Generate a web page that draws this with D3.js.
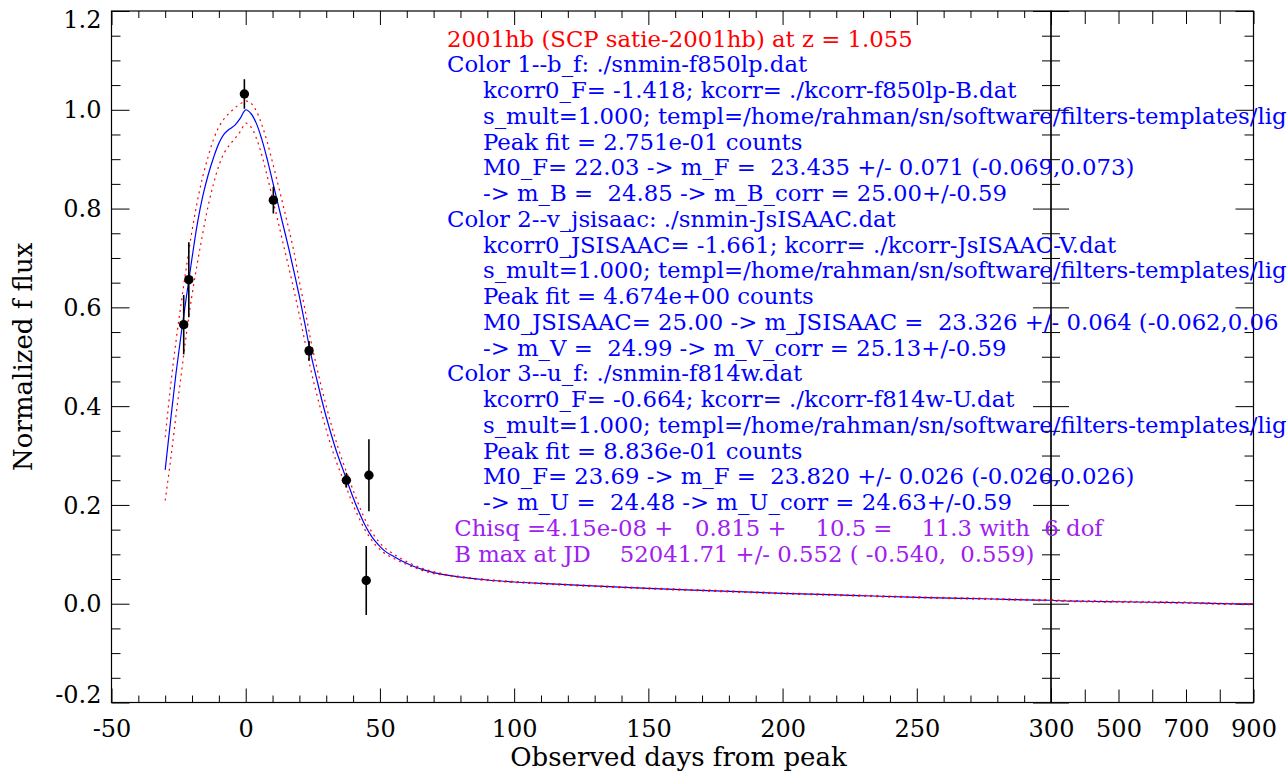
<!DOCTYPE html>
<html><head><meta charset="utf-8">
<script src="https://cdn.jsdelivr.net/npm/d3@7"></script>
<style>
html,body{margin:0;padding:0;background:#fff;}
svg{display:block;}
text{font-family:"DejaVu Serif",serif;white-space:pre;}
</style></head>
<body><svg id="c" width="1287" height="778"></svg>
<script>
// ---------------- data ----------------
const fitDays = [-30,-28,-26,-24,-22,-20,-18,-16,-14,-12,-10,-8,-6,-4,-2,0,2,4,6,8,10,12,14,16,18,20,22,24,26,28,30,32,34,36,38,40,42,44,46,48,50,52,55,58,62,66,70,75,80,90,100,110,125,150,175,200,225,250,275,300,400,500,600,700,800,900];
const fitFlux = [0.271,0.37,0.465,0.548,0.625,0.70,0.77,0.825,0.868,0.903,0.932,0.951,0.961,0.969,0.983,1.000,0.992,0.972,0.940,0.900,0.855,0.810,0.765,0.720,0.672,0.622,0.568,0.512,0.465,0.420,0.378,0.340,0.305,0.275,0.245,0.215,0.188,0.164,0.144,0.128,0.116,0.106,0.096,0.087,0.077,0.069,0.063,0.058,0.054,0.048,0.044,0.041,0.037,0.031,0.026,0.021,0.017,0.013,0.010,0.007,0.005,0.004,0.003,0.002,0.000,-0.001];
const fitUpper = [0.337,0.44,0.53,0.61,0.685,0.755,0.815,0.865,0.905,0.94,0.965,0.982,0.994,1.004,1.012,1.018,1.013,0.997,0.970,0.935,0.893,0.850,0.805,0.760,0.712,0.652,0.598,0.540,0.490,0.443,0.400,0.360,0.323,0.290,0.260,0.230,0.202,0.176,0.154,0.137,0.123,0.112,0.101,0.091,0.080,0.071,0.065,0.059,0.055,0.049,0.045,0.042,0.038,0.032,0.027,0.022,0.018,0.014,0.011,0.008,0.006,0.005,0.004,0.003,0.001,0.000];
const fitLower = [0.209,0.29,0.38,0.465,0.55,0.625,0.69,0.75,0.805,0.85,0.887,0.913,0.929,0.942,0.956,0.973,0.965,0.942,0.908,0.866,0.820,0.775,0.728,0.682,0.634,0.584,0.532,0.480,0.434,0.392,0.352,0.316,0.284,0.256,0.228,0.200,0.176,0.154,0.136,0.121,0.110,0.101,0.092,0.084,0.075,0.067,0.061,0.057,0.053,0.047,0.043,0.040,0.036,0.030,0.025,0.020,0.016,0.012,0.009,0.006,0.004,0.003,0.002,0.001,-0.001,-0.002];

const obsDays = [-23.1,-21.2,-0.5,10.3,23.6,37.5,44.9,45.9];
const obsFlux = [0.565,0.656,1.032,0.817,0.512,0.250,0.047,0.260];
const obsErr  = [0.060,0.076,0.030,0.027,0.020,0.015,0.070,0.073];

const yMajor = [-0.2,0.0,0.2,0.4,0.6,0.8,1.0,1.2];
const yLabels = ["-0.2","0.0","0.2","0.4","0.6","0.8","1.0","1.2"];
const xMajorLeft = [-50,0,50,100,150,200,250,300];
const xLabelsLeft = ["-50","0","50","100","150","200","250","300"];
const xMajorRight = [300,400,500,600,700,800,900];
const xLabelsRight = ["","","500","","700","","900"];

const xTitle = "Observed days from peak";
const yTitle = "Normalized f flux";

const infoLines = [
 {t:"2001hb (SCP satie-2001hb) at z = 1.055", c:"#ff0000", ind:0},
 {t:"Color 1--b_f: ./snmin-f850lp.dat", c:"#0000ff", ind:0},
 {t:"kcorr0_F= -1.418; kcorr= ./kcorr-f850lp-B.dat", c:"#0000ff", ind:1},
 {t:"s_mult=1.000; templ=/home/rahman/sn/software/filters-templates/lig", c:"#0000ff", ind:1},
 {t:"Peak fit = 2.751e-01 counts", c:"#0000ff", ind:1},
 {t:"M0_F= 22.03 -> m_F =  23.435 +/- 0.071 (-0.069,0.073)", c:"#0000ff", ind:1},
 {t:"-> m_B =  24.85 -> m_B_corr = 25.00+/-0.59", c:"#0000ff", ind:1},
 {t:"Color 2--v_jsisaac: ./snmin-JsISAAC.dat", c:"#0000ff", ind:0},
 {t:"kcorr0_JSISAAC= -1.661; kcorr= ./kcorr-JsISAAC-V.dat", c:"#0000ff", ind:1},
 {t:"s_mult=1.000; templ=/home/rahman/sn/software/filters-templates/lig", c:"#0000ff", ind:1},
 {t:"Peak fit = 4.674e+00 counts", c:"#0000ff", ind:1},
 {t:"M0_JSISAAC= 25.00 -> m_JSISAAC =  23.326 +/- 0.064 (-0.062,0.06", c:"#0000ff", ind:1},
 {t:"-> m_V =  24.99 -> m_V_corr = 25.13+/-0.59", c:"#0000ff", ind:1},
 {t:"Color 3--u_f: ./snmin-f814w.dat", c:"#0000ff", ind:0},
 {t:"kcorr0_F= -0.664; kcorr= ./kcorr-f814w-U.dat", c:"#0000ff", ind:1},
 {t:"s_mult=1.000; templ=/home/rahman/sn/software/filters-templates/lig", c:"#0000ff", ind:1},
 {t:"Peak fit = 8.836e-01 counts", c:"#0000ff", ind:1},
 {t:"M0_F= 23.69 -> m_F =  23.820 +/- 0.026 (-0.026,0.026)", c:"#0000ff", ind:1},
 {t:"-> m_U =  24.48 -> m_U_corr = 24.63+/-0.59", c:"#0000ff", ind:1},
 {t:" Chisq =4.15e-08 +   0.815 +    10.5 =    11.3 with  6 dof", c:"#a020f0", ind:0},
 {t:" B max at JD    52041.71 +/- 0.552 ( -0.540,  0.559)", c:"#a020f0", ind:0}
];

// ---------------- layout ----------------
const xL = 111.5, xM = 1051, xR = 1253.5, yT = 11, yB = 702.5;
const svg = d3.select("#c");
const x1 = d3.scaleLinear().domain([-50,300]).range([xL,xM]);
const x2 = d3.scaleLinear().domain([300,900]).range([xM,xR]);
const y = d3.scaleLinear().domain([-0.2,1.2]).range([yB,yT]);

const yMinor = d3.range(-0.2,1.2001,0.05).map(v=>+v.toFixed(2)).filter(v=>!yMajor.some(m=>Math.abs(m-v)<1e-6));
const xMinorLeft = d3.range(-50,300.1,10).filter(v=>v%50!==0);

svg.append("defs").call(d=>{
  d.append("clipPath").attr("id","cl").append("rect").attr("x",xL).attr("y",yT).attr("width",xM-xL).attr("height",yB-yT);
  d.append("clipPath").attr("id","cr").append("rect").attr("x",xM).attr("y",yT).attr("width",xR-xM).attr("height",yB-yT);
});

function styleAxis(g){
  g.select(".domain").remove();
  g.selectAll(".tick line").attr("stroke","#000").attr("stroke-width",1);
  g.selectAll(".tick text").attr("fill","#000").attr("font-family","DejaVu Serif").attr("font-size",24);
}

// left panel x axes
svg.append("g").attr("transform",`translate(0,${yB})`)
  .call(d3.axisBottom(x1).tickValues(xMajorLeft).tickSize(-14).tickPadding(17).tickFormat((d,i)=>xLabelsLeft[i]))
  .call(styleAxis);
svg.append("g").attr("transform",`translate(0,${yB})`)
  .call(d3.axisBottom(x1).tickValues(xMinorLeft).tickSize(-7).tickFormat(""))
  .call(styleAxis);
svg.append("g").attr("transform",`translate(0,${yT})`)
  .call(d3.axisTop(x1).tickValues(xMajorLeft).tickSize(-14).tickFormat(""))
  .call(styleAxis);
svg.append("g").attr("transform",`translate(0,${yT})`)
  .call(d3.axisTop(x1).tickValues(xMinorLeft).tickSize(-7).tickFormat(""))
  .call(styleAxis);
// right panel x axes
svg.append("g").attr("transform",`translate(0,${yB})`)
  .call(d3.axisBottom(x2).tickValues(xMajorRight).tickSize(-13).tickPadding(17).tickFormat((d,i)=>xLabelsRight[i]))
  .call(styleAxis);
svg.append("g").attr("transform",`translate(0,${yT})`)
  .call(d3.axisTop(x2).tickValues(xMajorRight).tickSize(-13).tickFormat(""))
  .call(styleAxis);

// y axes
const gyl = svg.append("g").attr("transform",`translate(${xL},0)`)
  .call(d3.axisLeft(y).tickValues(yMajor).tickSize(-18).tickPadding(10).tickFormat((d,i)=>yLabels[i]))
  .call(styleAxis);
gyl.selectAll(".tick text").attr("dy",(d,i)=> i===yMajor.length-1 ? "0.67em" : (i===0 ? "0.02em" : "0.34em"));
svg.append("g").attr("transform",`translate(${xL},0)`)
  .call(d3.axisLeft(y).tickValues(yMinor).tickSize(-9).tickFormat("")).call(styleAxis);
[[xM,"R"],[xM,"L"],[xR,"R"]].forEach(([px,side])=>{
  const mk = side==="R" ? d3.axisRight : d3.axisLeft;
  svg.append("g").attr("transform",`translate(${px},0)`)
    .call(mk(y).tickValues(yMajor).tickSize(-18).tickFormat("")).call(styleAxis);
  svg.append("g").attr("transform",`translate(${px},0)`)
    .call(mk(y).tickValues(yMinor).tickSize(-9).tickFormat("")).call(styleAxis);
});

// frames
svg.append("rect").attr("x",xL).attr("y",yT).attr("width",xM-xL).attr("height",yB-yT)
  .attr("fill","none").attr("stroke","#000").attr("stroke-width",1.2);
svg.append("rect").attr("x",xM).attr("y",yT).attr("width",xR-xM).attr("height",yB-yT)
  .attr("fill","none").attr("stroke","#000").attr("stroke-width",1.2);

// axis titles
svg.append("text").attr("x",(xL+xR)/2-4).attr("y",766).attr("text-anchor","middle")
  .attr("font-size",26).attr("fill","#000").text(xTitle);
svg.append("text").attr("transform",`translate(32,${(yT+yB)/2}) rotate(-90)`).attr("text-anchor","middle")
  .attr("font-size",26).attr("fill","#000").text(yTitle);

// ---------------- curves ----------------
const fitRows = fitDays.map((d,i)=>({d, f:fitFlux[i], u:fitUpper[i], l:fitLower[i]}));
function drawCurves(xs, clip){
  const g = svg.append("g").attr("clip-path",`url(#${clip})`);
  const cv = d3.curveCatmullRom.alpha(0.5);
  const lb = d3.line().curve(cv).x(r=>xs(r.d)).y(r=>y(r.f));
  const lu = d3.line().curve(cv).x(r=>xs(r.d)).y(r=>y(r.u));
  const ll = d3.line().curve(cv).x(r=>xs(r.d)).y(r=>y(r.l));
  g.append("path").datum(fitRows).attr("d",lb).attr("fill","none").attr("stroke","#0000ff").attr("stroke-width",1.2);
  g.append("path").datum(fitRows).attr("d",lu).attr("fill","none").attr("stroke","#ff0000").attr("stroke-width",1.2).attr("stroke-dasharray","2,4");
  g.append("path").datum(fitRows).attr("d",ll).attr("fill","none").attr("stroke","#ff0000").attr("stroke-width",1.2).attr("stroke-dasharray","2,4");
}
drawCurves(x1,"cl");
drawCurves(x2,"cr");

// observations
const obs = obsDays.map((d,i)=>({d, f:obsFlux[i], e:obsErr[i]}));
const go = svg.append("g").attr("clip-path","url(#cl)");
go.selectAll("line.eb").data(obs).join("line").attr("class","eb")
  .attr("x1",r=>x1(r.d)).attr("x2",r=>x1(r.d)).attr("y1",r=>y(r.f-r.e)).attr("y2",r=>y(r.f+r.e))
  .attr("stroke","#000").attr("stroke-width",1.6);
go.selectAll("circle").data(obs).join("circle")
  .attr("cx",r=>x1(r.d)).attr("cy",r=>y(r.f)).attr("r",4.7).attr("fill","#000");

// ---------------- info text ----------------
const gt = svg.append("g");
const tx = gt.selectAll("text").data(infoLines).join("text")
  .attr("font-size",23).attr("fill",r=>r.c).text(r=>r.t);
const w0 = tx.nodes()[0].getComputedTextLength();
const sx = 466 / w0;
tx.attr("transform",(r,i)=>`translate(${r.ind?483:447},${46.7+i*25.75}) scale(${sx},1)`);
</script></body></html>
